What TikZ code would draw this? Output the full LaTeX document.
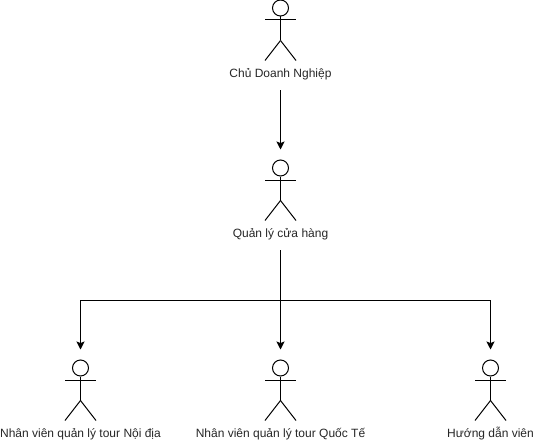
\documentclass[tikz,border=0pt]{standalone}
\usepackage{fontspec}
\setmainfont{Liberation Sans}
\usetikzlibrary{arrows.meta, positioning}

\begin{document}
\begin{tikzpicture}[
        x=0.75pt, y=-0.75pt,
        >={Stealth[length=6pt, width=6pt, inset=1.2pt]},
        every node/.style={font=\fontsize{9pt}{11pt}\selectfont, text=black!85},
        head/.style={draw, circle, minimum size=12pt, inner sep=0pt, line width=0.75pt},
        lbl/.style={minimum height=24pt, inner sep=0pt},
        limb/.style={line width=0.75pt},
        arr/.style={->, line width=0.75pt, shorten >=7.5pt},
    ]
    \useasboundingbox (0,0) rectangle (534,442);

    %% Actors
    \foreach \n/\x/\y/\t in {owner/280.5/8/{Chủ Doanh Nghiệp},
            manager/280.5/168/{Quản lý cửa hàng},
            domestic/80.5/368/{Nhân viên quản lý tour Nội địa},
            intl/280.5/368/{Nhân viên quản lý tour Quốc Tế},
            guide/490.5/368/{Hướng dẫn viên}} {
        \node[head] (\n) at (\x,\y) {};
        \draw[limb] (\n.south) -- ++(0,24) coordinate (\n-hip);
        \draw[limb] ([xshift=-11.6pt,yshift=-9pt]\n.center) -- ++(31,0);
        \draw[limb] (\n-hip) -- ++(-15.5,20);
        \draw[limb] (\n-hip) -- ++(15.5,20);
        \node[lbl] (\n-lbl) at ([yshift=-49.5pt]\n.center) {\t};
    }

    %% Bus
    \coordinate (busl) at (80.5,300);
    \coordinate (busr) at (490.5,300);
    \draw[limb] (busl) -- (busr);

    %% Arrows
    \draw[arr] (owner-lbl) -- (manager);
    \draw[arr] (manager-lbl) -- (intl);
    \draw[arr] (busl) -- (domestic);
    \draw[arr] (busr) -- (guide);

\end{tikzpicture}
\end{document}
